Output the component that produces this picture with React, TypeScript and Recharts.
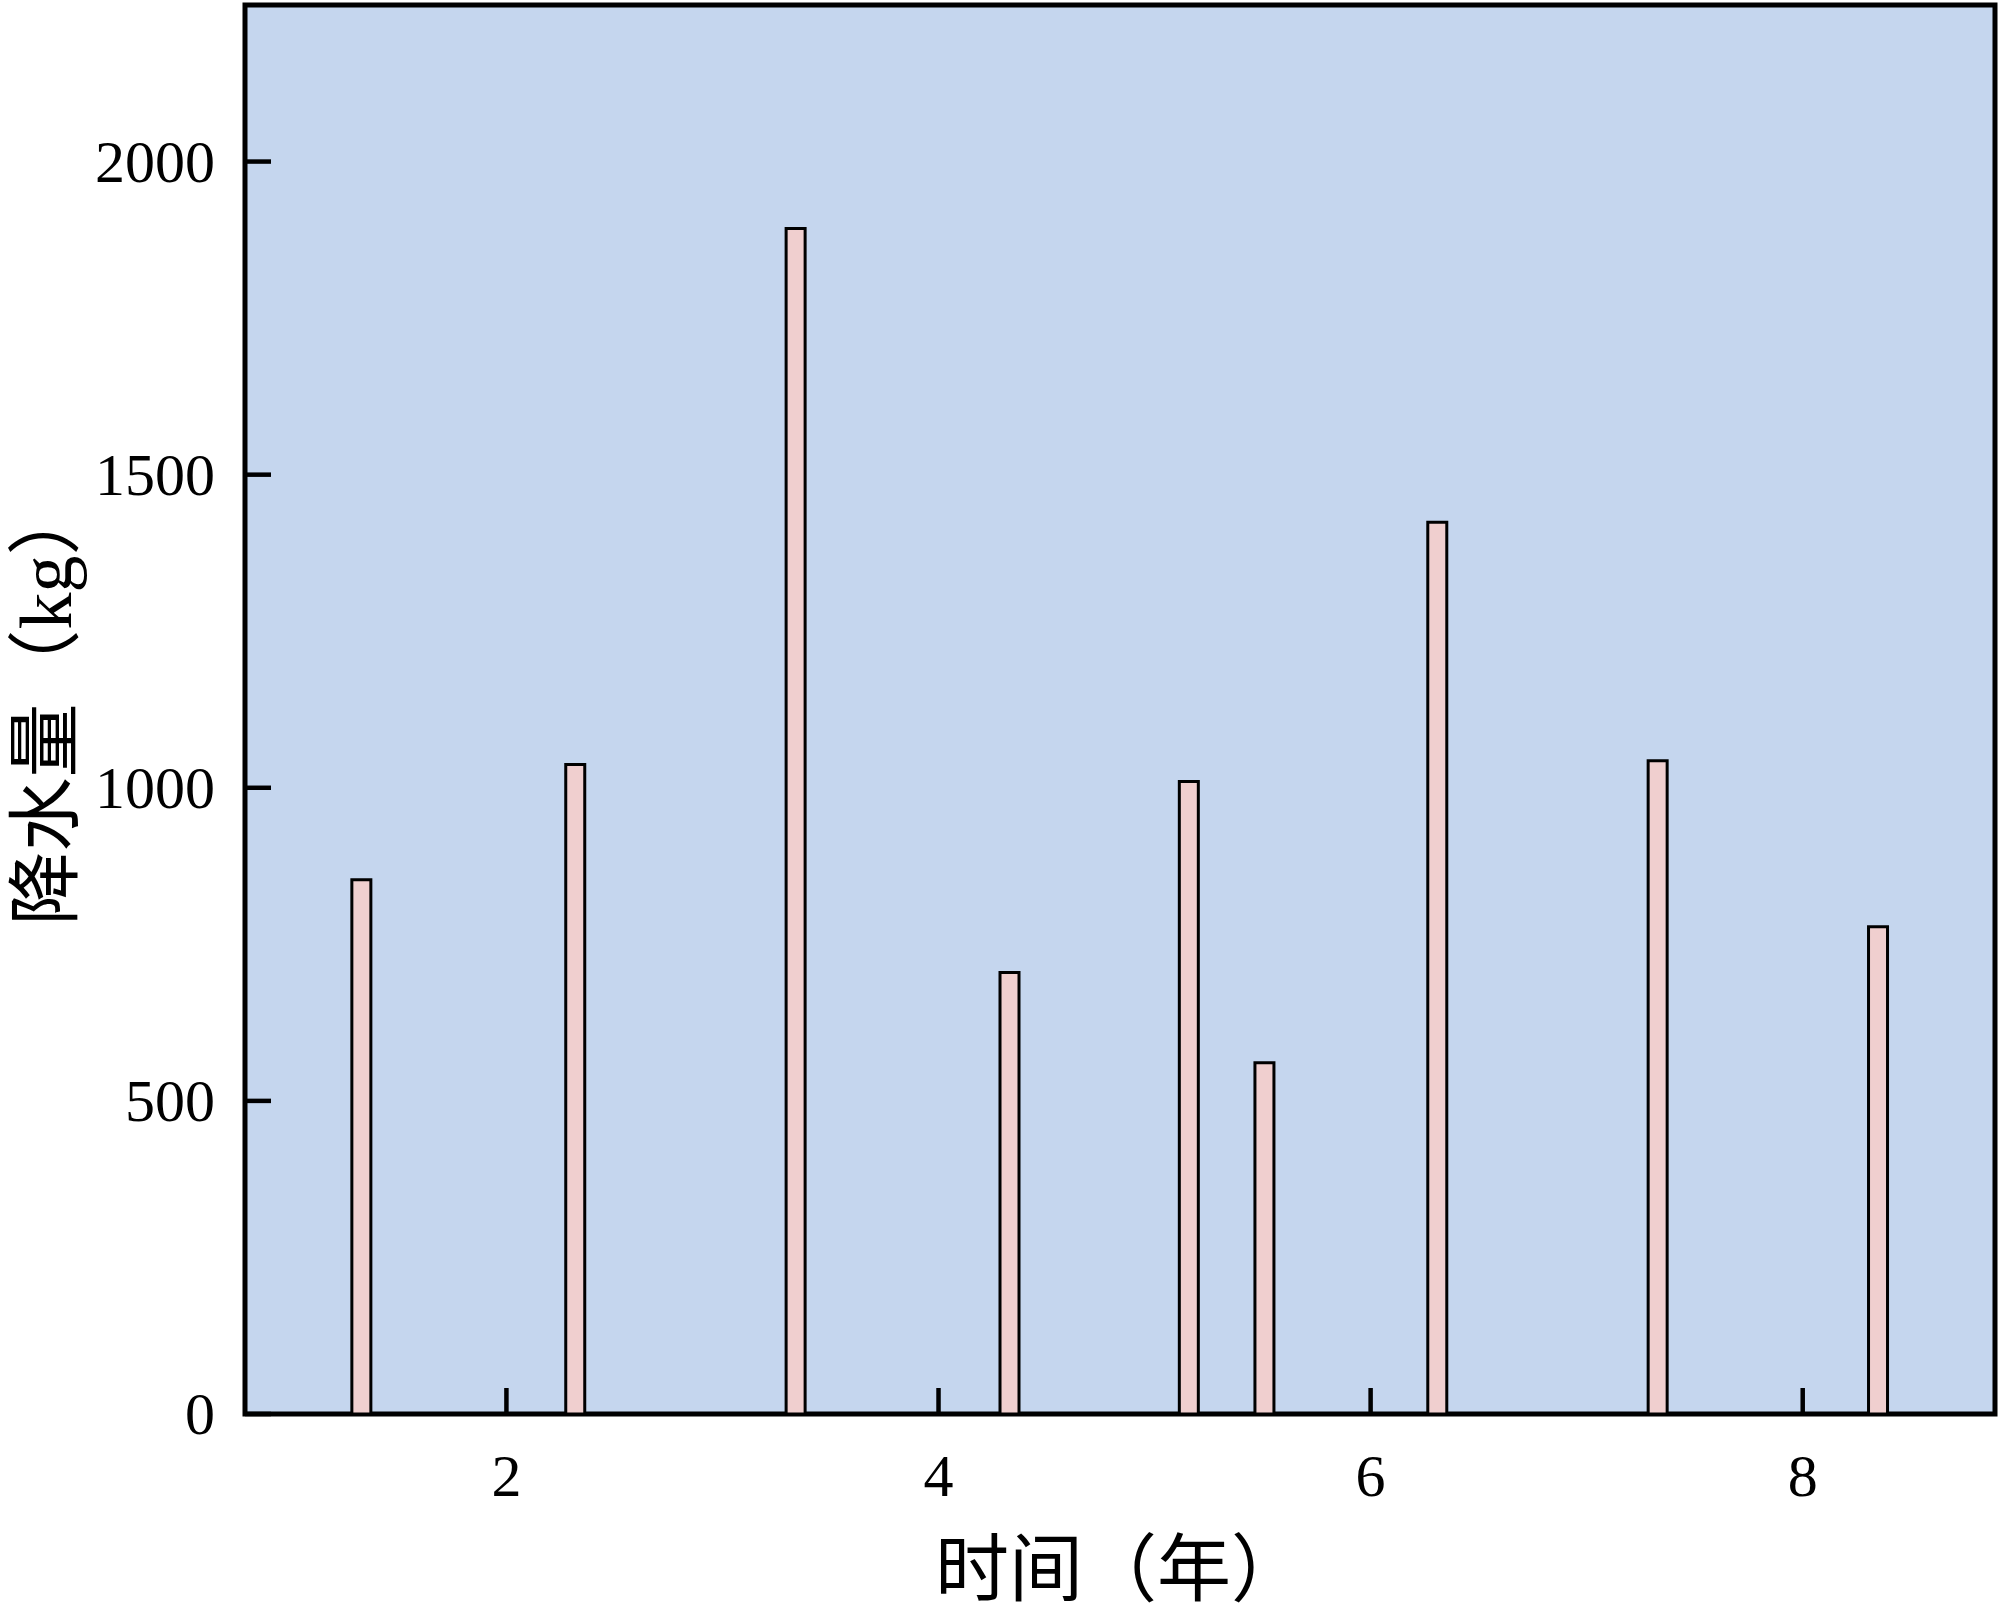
import { BarChart, Bar, XAxis, YAxis, CartesianGrid, ReferenceArea, Label } from 'recharts';

// 年份位置 (x) 和降水量 (kg)
const years = [1.33, 2.32, 3.34, 4.33, 5.16, 5.51, 6.31, 7.33, 8.35];
const rainfall = [853, 1037, 1893, 705, 1010, 561, 1424, 1043, 778];

const xTicks = [2, 4, 6, 8];
const yTicks = [0, 500, 1000, 1500, 2000];
const xDomain: [number, number] = [0.79, 8.89];
const yDomain: [number, number] = [0, 2250];

const chartData = years.map((year, i) => ({ year, rainfall: rainfall[i] }));

const FONT = "'Liberation Serif', 'Noto Sans CJK SC', serif";

function XTick({ x, y, payload }: any) {
  return (
    <g>
      <line x1={x} y1={y} x2={x} y2={y - 26} stroke="#000" strokeWidth={4.5} />
      <text x={x} y={y + 82} textAnchor="middle" fontSize={60} fontFamily={FONT} fill="#000">
        {payload.value}
      </text>
    </g>
  );
}

function YTick({ x, y, payload }: any) {
  return (
    <g>
      <line x1={x} y1={y} x2={x + 26} y2={y} stroke="#000" strokeWidth={4.5} />
      <text x={x - 30} y={y + 20} textAnchor="end" fontSize={60} fontFamily={FONT} fill="#000">
        {payload.value}
      </text>
    </g>
  );
}

export default function App() {
  return (
    <div style={{ position: 'absolute', left: 0, top: 0 }}>
      <BarChart
        width={2000}
        height={1610}
        data={chartData}
        margin={{ top: 5, right: 5, left: 0, bottom: 0 }}
      >
        <CartesianGrid horizontal={false} vertical={false} fill="#c5d6ee" stroke="none" />
        <XAxis
          dataKey="year"
          type="number"
          domain={xDomain}
          ticks={xTicks}
          allowDataOverflow
          height={196}
          axisLine={false}
          tickLine={false}
          tickSize={0}
          tickMargin={0}
          tick={<XTick />}
          interval={0}
        >
          <Label
            content={({ viewBox }: any) => (
              <text
                x={viewBox.x + viewBox.width / 2}
                y={1595}
                textAnchor="middle"
                fontSize={74}
                fontFamily={FONT}
                fill="#000"
              >
                时间（年）
              </text>
            )}
          />
        </XAxis>
        <YAxis
          type="number"
          domain={yDomain}
          ticks={yTicks}
          allowDataOverflow
          width={245}
          axisLine={false}
          tickLine={false}
          tickSize={0}
          tickMargin={0}
          tick={<YTick />}
          interval={0}
        >
          <Label
            content={({ viewBox }: any) => {
              const cx = 46;
              const cy = viewBox.y + viewBox.height / 2 - 6;
              return (
                <text
                  x={cx}
                  y={cy}
                  transform={`rotate(-90, ${cx}, ${cy})`}
                  textAnchor="middle"
                  dominantBaseline="central"
                  fontSize={74}
                  fontFamily={FONT}
                  fill="#000"
                >
                  降水量（kg）
                </text>
              );
            }}
          />
        </YAxis>
        <Bar
          dataKey="rainfall"
          barSize={19}
          fill="#f0cfcf"
          stroke="#000"
          strokeWidth={3}
          isAnimationActive={false}
        />
        <ReferenceArea
          x1={xDomain[0]}
          x2={xDomain[1]}
          y1={yDomain[0]}
          y2={yDomain[1]}
          fill="none"
          fillOpacity={0}
          stroke="#000"
          strokeWidth={5}
          strokeOpacity={1}
        />
      </BarChart>
    </div>
  );
}
